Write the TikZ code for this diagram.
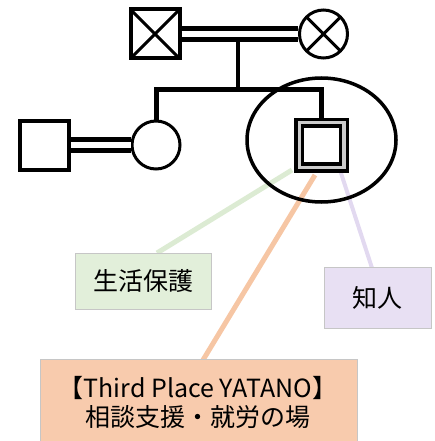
\documentclass[tikz,border=0pt]{standalone}
\usepackage{fontspec}
\setmainfont{Noto Sans CJK JP}
\usetikzlibrary{calc}
\definecolor{gfill}{HTML}{E2EFDA}
\definecolor{gline}{HTML}{DCEBD3}
\definecolor{pfill}{HTML}{E8E0F3}
\definecolor{pline}{HTML}{E2D9F0}
\definecolor{ofill}{HTML}{F8CBAD}
\definecolor{oline}{HTML}{F6C6A4}
\tikzset{
  male/.style={draw, line width=4, minimum size=49, inner sep=0, shape=rectangle},
  female/.style={draw, line width=3, circle, minimum size=48, inner sep=0},
  deadsq/.style={male, path picture={\draw[line width=3] (path picture bounding box.north east) -- (path picture bounding box.south west) (path picture bounding box.north west) -- (path picture bounding box.south east);}},
  deadci/.style={female, path picture={\draw[line width=3] (path picture bounding box.north east) -- (path picture bounding box.south west) (path picture bounding box.north west) -- (path picture bounding box.south east);}},
  selfsq/.style={draw, line width=3.5, fill=gray!40, minimum size=51.5, inner sep=0, shape=rectangle,
    path picture={\draw[line width=3.5, fill=white] ($(path picture bounding box.center)+(-19,-19)$) rectangle ($(path picture bounding box.center)+(19,19)$);}},
  couple/.style={line width=5, double=white, double distance=6},
  kin/.style={line width=5},
  label box/.style={draw=gray!45, line width=0.8, inner sep=0, align=center, font=\fontsize{25}{29}\selectfont},
  conn/.style={line width=5}
}
\begin{document}
\begin{tikzpicture}[x=1pt, y=-1pt]
\useasboundingbox (0,0) rectangle (434,441);
% connectors (behind)
\coordinate (gS) at (292,170);
\coordinate (gE) at (157,253);
\coordinate (oS) at (315,175);
\coordinate (oE) at (203,360);
\coordinate (pS) at (340,170);
\coordinate (pE) at (372,268);
\draw[conn, draw=gline] (gS) -- (gE);
\draw[conn, draw=oline] (oS) -- (oE);
\draw[conn, line width=4, draw=pline] (pS) -- (pE);
% boxes
\node[label box, fill=gfill, minimum width=136, minimum height=56] (green) at (143,281) {生活保護};
\node[label box, fill=pfill, minimum width=107, minimum height=61] (purple) at (377.5,297.5) {知人};
\node[label box, fill=ofill, minimum width=317, minimum height=84] (orange) at (198.5,401) {};
\node[font=\fontsize{25}{29}\selectfont, align=center, inner sep=0] (otext) at (198,402.5) {【Third Place YATANO】\\相談支援・就労の場};
% ellipse
\draw[line width=3.5] (321.5,140) ellipse [x radius=74.5, y radius=62];
% top couple
\node[deadsq] (gf) at (155,34) {};
\node[deadci] (gm) at (323.5,34) {};
\draw[couple] (gf.east) -- (gm.west);
\coordinate (pc) at (238,39.5);
\coordinate (sib) at (238,90);
\draw[kin, line width=4.5] (pc) -- (sib);
% second generation
\node[male] (hus) at (44.5,145) {};
\node[female] (sis) at (156,145) {};
\node[selfsq] (self) at (321.5,145) {};
\draw[couple] (hus.east) -- (sis.west);
\draw[kin, line cap=rect, line join=miter] (sis.north) |- (sib) -| (self.north);
\end{tikzpicture}
\end{document}
